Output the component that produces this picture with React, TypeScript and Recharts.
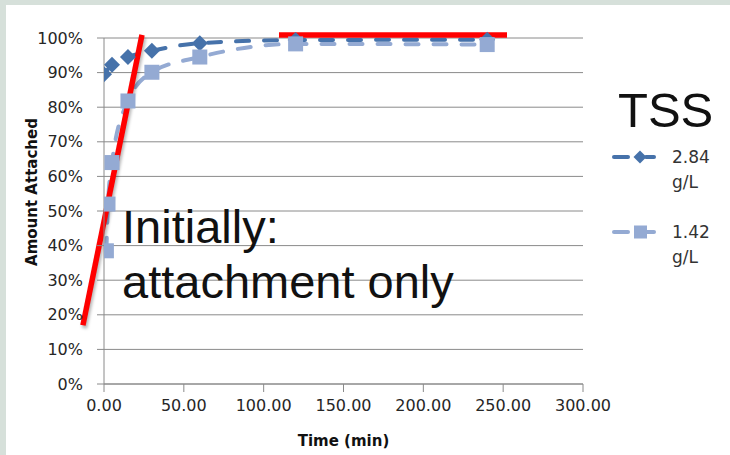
import React from 'react';
import { LineChart, Line, XAxis, YAxis, CartesianGrid, ReferenceLine } from 'recharts';

// Attachment over time for two TSS concentrations
const timeHigh = [0, 5, 15, 30, 60, 120, 240];
const attachedHigh = [89.5, 92.3, 94.5, 96.3, 98.5, 99.4, 99.5];
const timeLow = [1.5, 2.5, 5, 15, 30, 60, 120, 240];
const attachedLow = [38.5, 52, 64, 81.8, 90.1, 94.5, 98.3, 98.1];

const xTicks = [0, 50, 100, 150, 200, 250, 300];
const yTicks = [0, 10, 20, 30, 40, 50, 60, 70, 80, 90, 100];

const seriesNames = ['2.84', '1.42'];
const unitLabel = 'g/L';
const legendTitle = 'TSS';

// Hand-drawn annotation strokes, in data units (minutes, percent)
const initialSlope = [
  { x: -13.2, y: 17.0 },
  { x: 23.8, y: 100.9 },
];
const plateau = [
  { x: 109.6, y: 100.9 },
  { x: 252.4, y: 100.9 },
];

const highData = timeHigh.map((t, i) => ({ t, v: attachedHigh[i] }));
const lowData = timeLow.map((t, i) => ({ t, v: attachedLow[i] }));

const DARK = '#4672aa';
const LIGHT = '#94aad3';
const GRID = '#8a8a8a';
const TICK_FONT = 'DejaVu Sans, sans-serif';

const Diamond = (props: any) => {
  const { cx, cy, index } = props;
  if (cx == null || cy == null) return <g key={`d${index}`} />;
  const r = 8;
  return (
    <path
      key={`d${index}`}
      d={`M${cx},${cy - r}L${cx + r},${cy}L${cx},${cy + r}L${cx - r},${cy}Z`}
      fill={DARK}
    />
  );
};

const Square = (props: any) => {
  const { cx, cy, index } = props;
  if (cx == null || cy == null) return <g key={`s${index}`} />;
  const h = 7.5;
  return <rect key={`s${index}`} x={cx - h} y={cy - h} width={h * 2} height={h * 2} fill={LIGHT} />;
};

const RedStroke = (props: any) => {
  const { x1, y1, x2, y2 } = props;
  return (
    <g>
      <defs>
        <filter id="strokeShadow" x="-20%" y="-50%" width="140%" height="200%">
          <feGaussianBlur stdDeviation="1.6" />
        </filter>
      </defs>
      <line
        x1={x1 + 1.5}
        y1={y1 + 3}
        x2={x2 + 1.5}
        y2={y2 + 3}
        stroke="rgba(0,0,0,0.28)"
        strokeWidth={5.5}
        filter="url(#strokeShadow)"
      />
      <line x1={x1} y1={y1} x2={x2} y2={y2} stroke="#ff0000" strokeWidth={5.5} />
    </g>
  );
};

const LegendBox = () => (
  <g transform="translate(595,80)">
    <text x={23} y={47} fontFamily="Liberation Sans, Arial, sans-serif" fontSize={49} fill="#111">
      {legendTitle}
    </text>
    <g>
      <line x1={19} y1={77} x2={33} y2={77} stroke={DARK} strokeWidth={4} strokeLinecap="round" />
      <line x1={51} y1={77} x2={59} y2={77} stroke={DARK} strokeWidth={4} strokeLinecap="round" />
      <path d="M45,70.5L51.5,77L45,83.5L38.5,77Z" fill={DARK} />
      <text x={77} y={83} fontFamily={TICK_FONT} fontSize={17} fill="#333">{seriesNames[0]}</text>
      <text x={77} y={108} fontFamily={TICK_FONT} fontSize={17} fill="#333">{unitLabel}</text>
    </g>
    <g>
      <line x1={19} y1={152} x2={33} y2={152} stroke={LIGHT} strokeWidth={4} strokeLinecap="round" />
      <line x1={51} y1={152} x2={59} y2={152} stroke={LIGHT} strokeWidth={4} strokeLinecap="round" />
      <rect x={39} y={145.5} width={13} height={13} fill={LIGHT} />
      <text x={77} y={158} fontFamily={TICK_FONT} fontSize={17} fill="#333">{seriesNames[1]}</text>
      <text x={77} y={183} fontFamily={TICK_FONT} fontSize={17} fill="#333">{unitLabel}</text>
    </g>
  </g>
);

export default function App() {
  return (
    <div style={{ position: 'absolute', left: 0, top: 0, width: 730, height: 455, background: '#d6e0da' }}>
      <div style={{ position: 'absolute', left: 6, top: 5, width: 724, height: 450, background: '#ffffff' }} />
      <div style={{ position: 'absolute', left: 0, top: 0 }}>
        <LineChart width={730} height={455} margin={{ top: 38, right: 147, bottom: 41, left: 0 }}>
          <CartesianGrid vertical={false} stroke={GRID} strokeWidth={1} />
          <XAxis
            dataKey="t"
            type="number"
            domain={[0, 300]}
            ticks={xTicks}
            allowDataOverflow
            tickFormatter={(v: number) => v.toFixed(2)}
            height={30}
            tickSize={8}
            tickMargin={8}
            stroke={GRID}
            tick={{ fontFamily: TICK_FONT, fontSize: 16, fill: '#262626' }}
            axisLine={{ stroke: GRID }}
            tickLine={{ stroke: GRID }}
          />
          <YAxis
            type="number"
            domain={[0, 100]}
            ticks={yTicks}
            width={104}
            tickFormatter={(v: number) => `${v}%`}
            tickSize={7}
            tickMargin={14}
            tick={{ fontFamily: TICK_FONT, fontSize: 16, fill: '#262626' }}
            axisLine={{ stroke: GRID }}
            tickLine={{ stroke: GRID }}
          />
          <Line
            data={highData}
            dataKey="v"
            type="monotone"
            stroke={DARK}
            strokeWidth={4}
            strokeDasharray="13 15"
            strokeLinecap="round"
            dot={Diamond}
            activeDot={false}
            isAnimationActive={false}
          />
          <Line
            data={lowData}
            dataKey="v"
            type="monotone"
            stroke={LIGHT}
            strokeWidth={4}
            strokeDasharray="13 15"
            strokeLinecap="round"
            dot={Square}
            activeDot={false}
            isAnimationActive={false}
          />
          <ReferenceLine segment={initialSlope} ifOverflow="visible" shape={RedStroke} />
          <ReferenceLine segment={plateau} ifOverflow="visible" shape={RedStroke} />
          <LegendBox />
          <text x={122} y={243} fontFamily="Liberation Sans, Arial, sans-serif" fontSize={47} fill="#111">
            Initially:
          </text>
          <text x={122} y={298} fontFamily="Liberation Sans, Arial, sans-serif" fontSize={47} fill="#111">
            attachment only
          </text>
          <text
            x={32}
            y={192}
            transform="rotate(-90 32 192)"
            textAnchor="middle"
            dominantBaseline="central"
            fontFamily={TICK_FONT}
            fontWeight="bold"
            fontSize={15}
            fill="#111"
          >
            Amount Attached
          </text>
          <text
            x={343.5}
            y={446}
            textAnchor="middle"
            fontFamily={TICK_FONT}
            fontWeight="bold"
            fontSize={15}
            fill="#111"
          >
            Time (min)
          </text>
        </LineChart>
      </div>
    </div>
  );
}
